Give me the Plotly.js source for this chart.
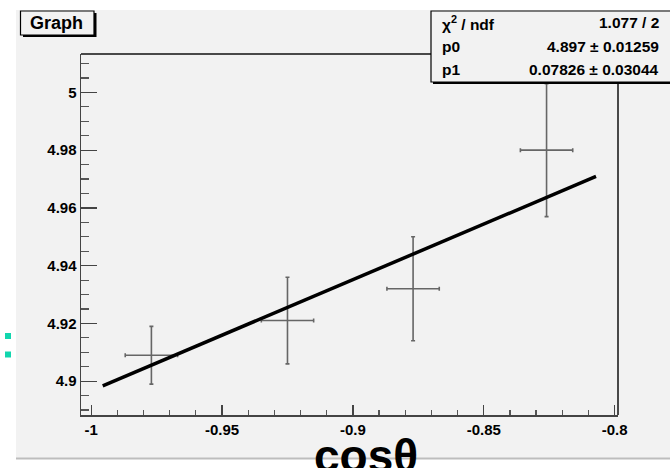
<!DOCTYPE html>
<html>
<head>
<meta charset="utf-8">
<script src="https://cdn.plot.ly/plotly-3.0.1.min.js"></script>
<style>
  html, body { margin: 0; padding: 0; background: #ffffff; }
  #chart { width: 670px; height: 468px; }
</style>
</head>
<body>
<div id="chart"></div>
<script>
// ---- data ----
const pointX = [-0.977, -0.925, -0.877, -0.826];
const pointY = [4.909, 4.921, 4.932, 4.980];
const errX = [0.010, 0.010, 0.010, 0.010];
const errY = [0.010, 0.015, 0.018, 0.023];

const fitX = [-0.9956, -0.8071];
const fitY = [4.8984, 4.9709];

const xTickVals = [-1, -0.95, -0.9, -0.85, -0.8];
const xTickText = ['-1', '-0.95', '-0.9', '-0.85', '-0.8'];
const yTickVals = [4.9, 4.92, 4.94, 4.96, 4.98, 5];
const yTickText = ['4.9', '4.92', '4.94', '4.96', '4.98', '5'];

const statNames = ['χ<sup>2</sup> / ndf', 'p0', 'p1'];
const statValues = ['1.077 / 2', '4.897 ± 0.01259', '0.07826 ± 0.03044'];

const graphTitle = 'Graph';
const xTitle = 'cosθ';

// ---- layout helpers ----
const W = 670, H = 468;
const mL = 81, mR = 52, mT = 54, mB = 53;
const pw = W - mL - mR, ph = H - mT - mB;
const px = x => (x - mL) / pw;          // pixel -> paper x
const py = y => 1 - (y - mT) / ph;      // pixel -> paper y

const font = 'Liberation Sans, Arial, Helvetica, sans-serif';

const traces = [
  {
    x: pointX, y: pointY, type: 'scatter', mode: 'markers',
    marker: { size: 1, color: 'rgba(0,0,0,0)' },
    error_x: { type: 'data', array: errX, visible: true, color: '#666', thickness: 1.6, width: 2 },
    error_y: { type: 'data', array: errY, visible: true, color: '#666', thickness: 1.6, width: 2 },
    hoverinfo: 'skip', showlegend: false
  },
  {
    x: fitX, y: fitY, type: 'scatter', mode: 'lines',
    line: { color: '#000', width: 3.5 },
    hoverinfo: 'skip', showlegend: false
  }
];

const shapes = [
  // canvas background
  { type: 'rect', xref: 'paper', yref: 'paper', layer: 'below',
    x0: px(16), x1: px(672), y0: py(10), y1: py(458.5),
    fillcolor: '#f2f2f2', line: { width: 0 } },
  // canvas bottom border
  { type: 'line', xref: 'paper', yref: 'paper', layer: 'below',
    x0: px(16), x1: px(672), y0: py(458.5), y1: py(458.5),
    line: { color: '#bdbdbd', width: 2 } },
  // frame top + right
  { type: 'line', xref: 'paper', yref: 'paper',
    x0: 0, x1: 1, y0: 1, y1: 1, line: { color: '#111', width: 1.5 } },
  { type: 'line', xref: 'paper', yref: 'paper',
    x0: 1, x1: 1, y0: 0, y1: 1, line: { color: '#111', width: 1.5 } },
  // teal markers on the left
  { type: 'rect', xref: 'paper', yref: 'paper',
    x0: px(5), x1: px(11), y0: py(339), y1: py(333),
    fillcolor: '#12d6ae', line: { width: 0 } },
  { type: 'rect', xref: 'paper', yref: 'paper',
    x0: px(5), x1: px(11), y0: py(357.5), y1: py(351.5),
    fillcolor: '#12d6ae', line: { width: 0 } },
  // Graph title box shadow + box
  { type: 'rect', xref: 'paper', yref: 'paper',
    x0: px(23), x1: px(96.5), y0: py(37), y1: py(13),
    fillcolor: '#000', line: { width: 0 } },
  { type: 'rect', xref: 'paper', yref: 'paper',
    x0: px(20.5), x1: px(94), y0: py(35), y1: py(11),
    fillcolor: '#f2f2f2', line: { color: '#000', width: 1.2 } },
  // stats box shadow + box
  { type: 'rect', xref: 'paper', yref: 'paper',
    x0: px(433), x1: px(672), y0: py(84), y1: py(13),
    fillcolor: '#000', line: { width: 0 } },
  { type: 'rect', xref: 'paper', yref: 'paper',
    x0: px(431), x1: px(672), y0: py(82), y1: py(11),
    fillcolor: '#f2f2f2', line: { color: '#000', width: 1.2 } }
];

const annotations = [
  { text: '<b>' + graphTitle + '</b>', xref: 'paper', yref: 'paper',
    x: px(56.5), y: py(23), xanchor: 'center', yanchor: 'middle', showarrow: false,
    font: { family: font, size: 18, color: '#000' } },
  { text: '<b>' + xTitle + '</b>', xref: 'paper', yref: 'paper',
    x: px(366), y: py(456), xanchor: 'center', yanchor: 'middle', showarrow: false,
    font: { family: font, size: 46, color: '#000' } }
];
const rowY = [23, 46, 69];
for (let i = 0; i < statNames.length; i++) {
  annotations.push({ text: '<b>' + statNames[i] + '</b>', xref: 'paper', yref: 'paper',
    x: px(440), y: py(rowY[i]), xanchor: 'left', yanchor: 'middle', showarrow: false,
    font: { family: font, size: 15.5, color: '#000' } });
  annotations.push({ text: '<b>' + statValues[i] + '</b>', xref: 'paper', yref: 'paper',
    x: px(661), y: py(rowY[i]), xanchor: 'right', yanchor: 'middle', showarrow: false,
    font: { family: font, size: 15.5, color: '#000' } });
}

const layout = {
  width: W, height: H,
  margin: { l: mL, r: mR, t: mT, b: mB, pad: 0 },
  paper_bgcolor: 'rgba(0,0,0,0)',
  plot_bgcolor: 'rgba(0,0,0,0)',
  showlegend: false,
  xaxis: {
    range: [-1.0039, -0.7987], showgrid: false, zeroline: false,
    showline: true, linecolor: '#444', linewidth: 1.5,
    tickmode: 'array', tickvals: xTickVals, ticktext: xTickText,
    ticks: 'inside', ticklen: 10, tickwidth: 1.3, tickcolor: '#444',
    tickfont: { family: font, size: 15, color: '#000', weight: 'bold' },
    minor: { ticks: 'inside', dtick: 0.01, tick0: -1, ticklen: 5, tickwidth: 1.2, tickcolor: '#555', showgrid: false }
  },
  yaxis: {
    range: [4.8883, 5.0133], showgrid: false, zeroline: false,
    showline: true, linecolor: '#444', linewidth: 1.5,
    tickmode: 'array', tickvals: yTickVals, ticktext: yTickText,
    ticks: 'inside', ticklen: 16, tickwidth: 1.3, tickcolor: '#444',
    tickfont: { family: font, size: 15, color: '#000', weight: 'bold' },
    minor: { ticks: 'inside', dtick: 0.005, tick0: 4.9, ticklen: 8, tickwidth: 1.2, tickcolor: '#555', showgrid: false }
  },
  shapes: shapes,
  annotations: annotations
};

Plotly.newPlot('chart', traces, layout, { staticPlot: true, displayModeBar: false });
</script>
</body>
</html>
